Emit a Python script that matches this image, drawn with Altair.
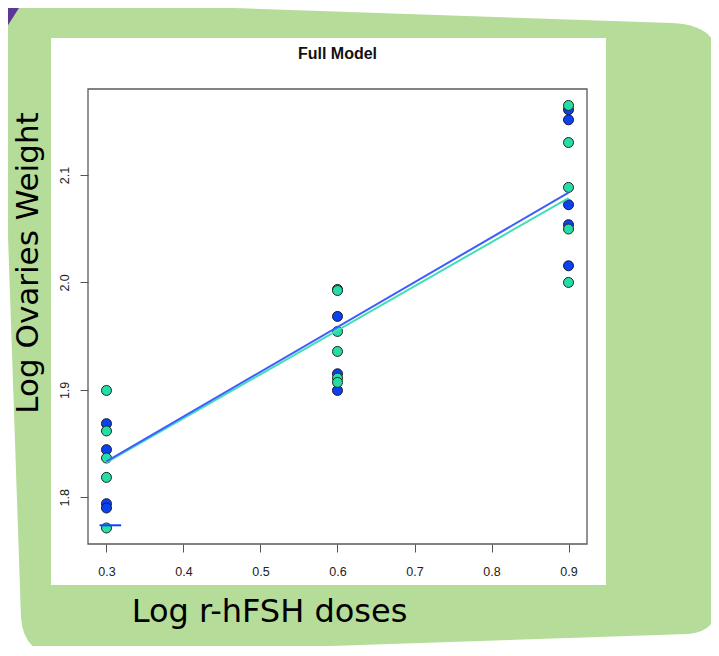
import altair as alt
import pandas as pd

# ---------------- data ----------------
dose_levels = [0.3, 0.6, 0.9]
blue_dose = [0.3, 0.3, 0.3, 0.3, 0.6, 0.6, 0.6, 0.9, 0.9, 0.9, 0.9, 0.9]
blue_weight = [1.8686, 1.8444, 1.7941, 1.7901, 1.9684, 1.9150, 1.8995,
               2.1607, 2.1513, 2.0723, 2.0537, 2.0155]
green_dose = [0.3, 0.3, 0.3, 0.3, 0.3, 0.6, 0.6, 0.6, 0.6, 0.6, 0.6,
              0.9, 0.9, 0.9, 0.9, 0.9]
green_weight = [1.8995, 1.8618, 1.8366, 1.8186, 1.7715, 1.9935, 1.9925,
                1.9544, 1.9358, 1.9110, 1.9070, 2.1647, 2.1302, 2.0884,
                2.0497, 2.0000]
line_x = [0.3, 0.9]
blue_line_y = [1.8335, 2.0835]
green_line_y = [1.8325, 2.0785]
seg_x = [0.291, 0.319]
seg_y = [1.774]
x_ticks = [0.3, 0.4, 0.5, 0.6, 0.7, 0.8, 0.9]
y_ticks = [1.8, 1.9, 2.0, 2.1]
x_domain = [0.276, 0.924]
y_domain = [1.7566, 2.18]

title_text = "Full Model"
x_label = "Log r-hFSH doses"
y_label = "Log Ovaries Weight"

# ---------------- styles ----------------
W, H = 499, 455
BLUE = "#0a42f2"
GREEN = "#27dca6"
BLUE_LINE = "#3f5cff"
GREEN_LINE = "#3fdfb6"
BG_GREEN = "#b6dc99"
PURPLE = "#5b3799"

blue_df = pd.DataFrame({"dose": blue_dose, "weight": blue_weight})
green_df = pd.DataFrame({"dose": green_dose, "weight": green_weight})
bline_df = pd.DataFrame({"dose": line_x, "weight": blue_line_y})
gline_df = pd.DataFrame({"dose": line_x, "weight": green_line_y})
seg_df = pd.DataFrame({"x1": [seg_x[0]], "x2": [seg_x[1]], "y": seg_y})
dummy = pd.DataFrame({"a": [0]})

xscale = alt.Scale(domain=x_domain, nice=False, zero=False)
yscale = alt.Scale(domain=y_domain, nice=False, zero=False)

x_axis = alt.Axis(values=x_ticks, format=".1f", title=None, grid=False,
                  domain=False, tickSize=8, tickColor="#555", labelPadding=13,
                  labelFont="Liberation Sans", labelFontSize=12.5,
                  labelColor="#222", zindex=2)
y_axis = alt.Axis(values=y_ticks, format=".1f", title=None, grid=False,
                  domain=False, tickSize=8, tickColor="#555", labelPadding=12,
                  labelAngle=270, labelAlign="center", labelBaseline="alphabetic",
                  labelFont="Liberation Sans", labelFontSize=12.5,
                  labelColor="#222", zindex=2)

# decorative background shape (page coordinates, offset to plot origin)
bg_path = ("M 0 0 L 672 23 Q 719 25 719 62 L 719 598 Q 719 632 688 634 "
           "L 62 655 Q 24 656 21 618 L 0 0 Z")
tri_path = "M 0 0 L 24 0 L 0 38 Z"

bg = alt.Chart(dummy).mark_point(shape=bg_path, filled=True, fill=BG_GREEN,
                                 size=4, opacity=1, strokeWidth=0).encode(
    x=alt.value(-88), y=alt.value(-89))
tri = alt.Chart(dummy).mark_point(shape=tri_path, filled=True, fill=PURPLE,
                                  size=4, opacity=1, strokeWidth=0).encode(
    x=alt.value(-88), y=alt.value(-89))
panel = alt.Chart(dummy).mark_rect(fill="white").encode(
    x=alt.value(-37), x2=alt.value(518), y=alt.value(-51), y2=alt.value(496))
frame = alt.Chart(dummy).mark_rect(filled=False, stroke="#5a5a5a",
                                   strokeWidth=1.3).encode(
    x=alt.value(0), x2=alt.value(W), y=alt.value(0), y2=alt.value(H))

pt_blue = alt.Chart(blue_df).mark_circle(size=100, color=BLUE, opacity=1,
                                          stroke="#1a1a2a", strokeWidth=1).encode(
    x=alt.X("dose:Q", scale=xscale, axis=x_axis),
    y=alt.Y("weight:Q", scale=yscale, axis=y_axis))
pt_green = alt.Chart(green_df).mark_circle(size=100, color=GREEN, opacity=1,
                                            stroke="#1a2a22", strokeWidth=1).encode(
    x="dose:Q", y="weight:Q")
ln_green = alt.Chart(gline_df).mark_line(color=GREEN_LINE, strokeWidth=2).encode(
    x="dose:Q", y="weight:Q")
ln_blue = alt.Chart(bline_df).mark_line(color=BLUE_LINE, strokeWidth=2).encode(
    x="dose:Q", y="weight:Q")
seg = alt.Chart(seg_df).mark_rule(color="#1040ff", strokeWidth=2).encode(
    x="x1:Q", x2="x2:Q", y="y:Q")

title = alt.Chart(dummy).mark_text(text=title_text, font="Liberation Sans",
                                   fontWeight="bold", fontSize=16,
                                   align="center", baseline="alphabetic",
                                   color="#111").encode(
    x=alt.value(W / 2), y=alt.value(-30))
xlab = alt.Chart(dummy).mark_text(text=x_label, font="DejaVu Sans", fontSize=32,
                                  align="center", baseline="alphabetic",
                                  color="#000").encode(
    x=alt.value(181.5), y=alt.value(533))
ylab = alt.Chart(dummy).mark_text(text=y_label, font="DejaVu Sans", fontSize=31,
                                  angle=270, align="center", baseline="alphabetic",
                                  color="#000").encode(
    x=alt.value(-50), y=alt.value(174))

chart = alt.layer(bg, tri, panel, pt_blue, pt_green, ln_green, ln_blue, seg,
                  frame, title, xlab, ylab).properties(
    width=W, height=H,
    autosize=alt.AutoSizeParams(type="none"),
    padding={"left": 80, "top": 81, "right": 124, "bottom": 102},
    background="white",
).configure_view(stroke=None)

chart.save("out.html", embed_options={"renderer": "svg", "actions": False})
